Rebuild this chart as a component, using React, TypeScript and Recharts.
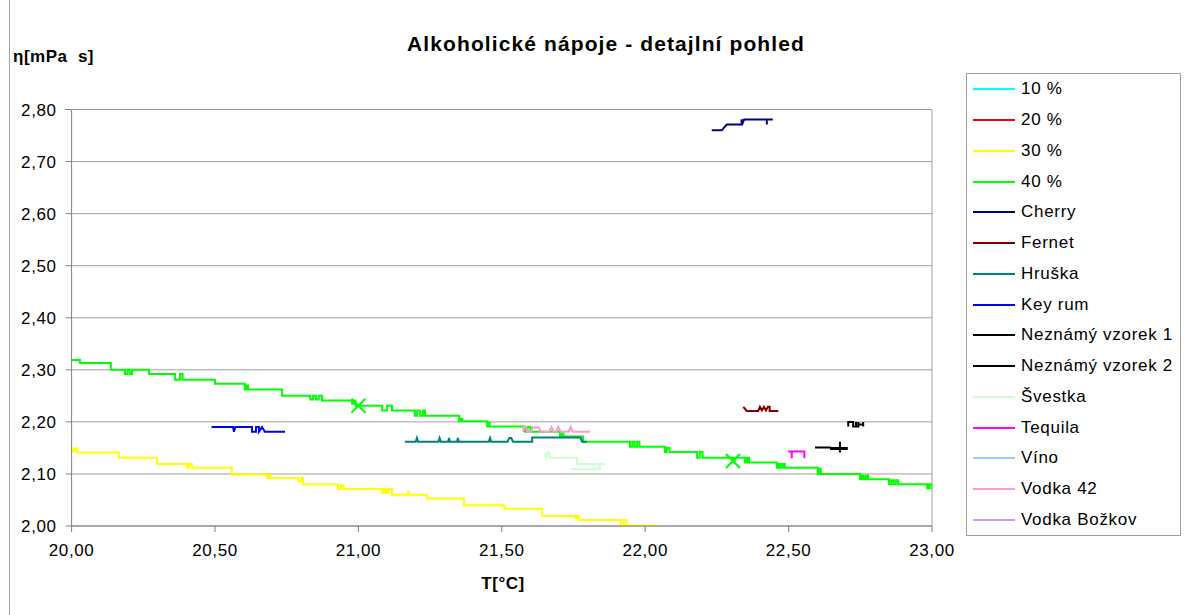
import React from 'react';
import { LineChart, Line, XAxis, YAxis, CartesianGrid, Legend, ReferenceLine } from 'recharts';

const FONT = '"Liberation Sans", Arial, sans-serif';

// ---- axis ticks ----
const xTicks = [20, 20.5, 21, 21.5, 22, 22.5, 23];
const yTicks = [2.0, 2.1, 2.2, 2.3, 2.4, 2.5, 2.6, 2.7, 2.8];

// ---- series values: [T (°C), η (mPa s)] ----
const s10: number[][] = [];
const s20: number[][] = [];
const s30: number[][] = [
  [19.98, 2.149], [20.0, 2.143], [20.01, 2.149], [20.019, 2.141], [20.165, 2.131], [20.298, 2.119],
  [20.403, 2.112], [20.41, 2.119], [20.42, 2.112], [20.559, 2.099], [20.682, 2.092], [20.687, 2.099],
  [20.693, 2.092], [20.79, 2.086], [20.8, 2.092], [20.807, 2.08], [20.929, 2.071], [20.939, 2.078],
  [20.949, 2.071], [21.083, 2.064], [21.09, 2.071], [21.097, 2.064], [21.104, 2.071], [21.117, 2.06],
  [21.173, 2.066], [21.176, 2.06], [21.239, 2.053], [21.368, 2.04], [21.503, 2.038], [21.511, 2.033],
  [21.64, 2.019], [21.756, 2.015], [21.762, 2.019], [21.769, 2.0115], [21.915, 2.001], [21.925, 2.0115],
  [21.935, 2.001], [22.02, 1.996], [22.03, 2.001], [22.04, 1.992], [22.191, 1.992],
];
const s40: number[][] = [
  [19.977, 2.319], [20.029, 2.313], [20.137, 2.3], [20.186, 2.292], [20.195, 2.3], [20.203, 2.292],
  [20.211, 2.3], [20.27, 2.292], [20.361, 2.281], [20.378, 2.292], [20.387, 2.281], [20.5, 2.273],
  [20.604, 2.262], [20.608, 2.27], [20.615, 2.262], [20.734, 2.25], [20.832, 2.243], [20.842, 2.25],
  [20.852, 2.243], [20.862, 2.25], [20.873, 2.241], [20.978, 2.235], [20.985, 2.241], [20.99, 2.231],
  [21.0, 2.231, 1], [21.083, 2.222], [21.1, 2.231], [21.117, 2.222], [21.197, 2.212], [21.205, 2.222],
  [21.215, 2.212], [21.225, 2.222], [21.232, 2.212], [21.351, 2.201], [21.356, 2.206], [21.362, 2.201],
  [21.449, 2.191], [21.452, 2.198], [21.458, 2.191], [21.581, 2.181], [21.59, 2.19], [21.6, 2.181],
  [21.703, 2.172], [21.708, 2.178], [21.715, 2.172], [21.783, 2.162], [21.947, 2.152], [21.955, 2.162],
  [21.963, 2.152], [21.972, 2.162], [21.98, 2.152], [22.069, 2.142], [22.075, 2.15], [22.085, 2.142],
  [22.181, 2.131], [22.19, 2.142], [22.2, 2.131], [22.306, 2.125, 1], [22.312, 2.131], [22.348, 2.122],
  [22.355, 2.131], [22.362, 2.122], [22.459, 2.112], [22.465, 2.119], [22.472, 2.112], [22.48, 2.119],
  [22.487, 2.112], [22.602, 2.1], [22.606, 2.11], [22.612, 2.1], [22.749, 2.09], [22.755, 2.097],
  [22.762, 2.09], [22.77, 2.097], [22.777, 2.09], [22.85, 2.08], [22.858, 2.088], [22.866, 2.08],
  [22.874, 2.088], [22.882, 2.08], [22.983, 2.0725], [22.99, 2.08], [22.998, 2.0725], [23.028, 2.0725],
];
const sCherry: number[][] = [
  [22.232, 2.76], [22.267, 2.76], [22.284, 2.771], [22.336, 2.771], [22.336, 2.781], [22.34, 2.774],
  [22.345, 2.781], [22.424, 2.781], [22.424, 2.771], [22.424, 2.781], [22.445, 2.781],
];
const sFernet: number[][] = [
  [22.342, 2.229], [22.354, 2.221], [22.394, 2.221], [22.4, 2.229], [22.407, 2.222], [22.414, 2.229],
  [22.421, 2.222], [22.428, 2.229], [22.434, 2.229], [22.434, 2.221], [22.464, 2.221],
];
const sHruska: number[][] = [
  [21.162, 2.162], [21.2, 2.162], [21.204, 2.169], [21.208, 2.162], [21.279, 2.162], [21.283, 2.169],
  [21.287, 2.162], [21.313, 2.162], [21.316, 2.169], [21.319, 2.162], [21.344, 2.162], [21.347, 2.169],
  [21.35, 2.162], [21.455, 2.162], [21.459, 2.169], [21.463, 2.162], [21.52, 2.162], [21.526, 2.169],
  [21.533, 2.169], [21.539, 2.162], [21.606, 2.162], [21.606, 2.17], [21.774, 2.17], [21.78, 2.162],
  [21.796, 2.162],
];
const sKeyRum: number[][] = [
  [20.488, 2.19], [20.563, 2.19], [20.566, 2.181], [20.571, 2.19], [20.629, 2.19], [20.629, 2.181],
  [20.643, 2.181], [20.643, 2.19], [20.653, 2.19], [20.653, 2.181], [20.664, 2.19], [20.674, 2.181],
  [20.744, 2.181],
];
const sNez1: number[][] = [
  [22.708, 2.191], [22.708, 2.2], [22.725, 2.2], [22.725, 2.191], [22.735, 2.191], [22.735, 2.2],
  [22.735, 2.191], [22.743, 2.191], [22.743, 2.2], [22.743, 2.195], [22.76, 2.195], [22.76, 2.2],
  [22.76, 2.191],
];
const sNez2: number[][] = [
  [22.592, 2.151], [22.645, 2.151], [22.648, 2.148], [22.703, 2.148], [22.703, 2.15], [22.645, 2.15],
  [22.679, 2.15], [22.679, 2.162], [22.679, 2.141],
];
const sSvestka: number[][] = [
  [21.65, 2.141], [21.655, 2.131], [21.66, 2.141], [21.667, 2.141], [21.667, 2.131], [21.762, 2.131],
  [21.762, 2.119], [21.86, 2.119], [21.842, 2.119], [21.842, 2.109], [21.738, 2.109],
];
const sTequila: number[][] = [
  [22.499, 2.143], [22.511, 2.143], [22.511, 2.13], [22.511, 2.143], [22.555, 2.143], [22.555, 2.13],
];
const sVino: number[][] = [];
const sVodka42: number[][] = [
  [21.574, 2.181], [21.578, 2.19], [21.586, 2.19], [21.588, 2.181], [21.602, 2.181], [21.608, 2.189],
  [21.63, 2.189], [21.636, 2.181], [21.665, 2.181], [21.673, 2.19], [21.681, 2.181], [21.69, 2.181],
  [21.697, 2.19], [21.705, 2.181], [21.733, 2.181], [21.74, 2.19], [21.748, 2.181], [21.808, 2.181],
];
const sBozkov: number[][] = [];

const toPts = (a: number[][]) => a.map(([T, v, m]) => ({ T, v, m: !!m }));

const series = [
  { name: '10 %', color: '#00ffff', data: s10, type: 'linear' },
  { name: '20 %', color: '#ff0000', data: s20, type: 'linear' },
  { name: '30 %', color: '#ffff00', data: s30, type: 'stepAfter' },
  { name: '40 %', color: '#00ff00', data: s40, type: 'stepAfter' },
  { name: 'Cherry', color: '#000080', data: sCherry, type: 'linear' },
  { name: 'Fernet', color: '#800000', data: sFernet, type: 'linear' },
  { name: 'Hruška', color: '#008080', data: sHruska, type: 'linear' },
  { name: 'Key rum', color: '#0000ff', data: sKeyRum, type: 'linear' },
  { name: 'Neznámý vzorek 1', color: '#000000', data: sNez1, type: 'linear' },
  { name: 'Neznámý vzorek 2', color: '#000000', data: sNez2, type: 'linear' },
  { name: 'Švestka', color: '#ccffcc', data: sSvestka, type: 'linear' },
  { name: 'Tequila', color: '#ff00ff', data: sTequila, type: 'linear' },
  { name: 'Víno', color: '#99ccff', data: sVino, type: 'linear' },
  { name: 'Vodka 42', color: '#ff99cc', data: sVodka42, type: 'linear' },
  { name: 'Vodka Božkov', color: '#cc99ff', data: sBozkov, type: 'linear' },
];

const fmt = (v: number) => v.toFixed(2).replace('.', ',');

const makeMarker = (color: string) => (props: any) => {
  const { cx, cy, payload, index } = props;
  if (!payload || !payload.m || cx == null || cy == null) return <g key={`d${index}`} />;
  const r = 7;
  return (
    <path
      key={`d${index}`}
      d={`M${cx - r},${cy - r}L${cx + r},${cy + r}M${cx - r},${cy + r}L${cx + r},${cy - r}`}
      stroke={color}
      strokeWidth={2}
      fill="none"
    />
  );
};

const renderLegend = () => (
  <div
    style={{
      width: 215,
      height: 463,
      border: '1px solid #a0a0a0',
      boxSizing: 'border-box',
      background: '#fff',
      fontFamily: FONT,
      fontSize: 17,
      letterSpacing: 0.7,
      color: '#000',
      paddingTop: 0,
    }}
  >
    {series.map((s) => (
      <div key={s.name} style={{ height: 30.75, display: 'flex', alignItems: 'center' }}>
        <svg width={54} height={10} style={{ flex: 'none' }}>
          <line x1={6} x2={48} y1={5} y2={5} stroke={s.color} strokeWidth={2} />
        </svg>
        <span style={{ whiteSpace: 'nowrap' }}>{s.name}</span>
      </div>
    ))}
  </div>
);

const tickStyle = { fontFamily: FONT, fontSize: 17, fill: '#000', letterSpacing: 0.6 };

export default function App() {
  return (
    <div style={{ position: 'absolute', left: 0, top: 0, width: 1192, height: 615, background: '#fff' }}>
      <div style={{ position: 'absolute', left: 9, top: 0, width: 1, height: 615, background: '#a0a0a0' }} />
      <div
        style={{
          position: 'absolute',
          left: 0,
          width: 1212,
          top: 32,
          textAlign: 'center',
          fontFamily: FONT,
          fontWeight: 'bold',
          fontSize: 21,
          letterSpacing: 1.1,
        }}
      >
        Alkoholické nápoje - detajlní pohled
      </div>
      <div
        style={{
          position: 'absolute',
          left: 13,
          top: 47,
          fontFamily: FONT,
          fontWeight: 'bold',
          fontSize: 17,
          letterSpacing: 0.5,
          whiteSpace: 'pre',
        }}
      >
        {'η[mPa  s]'}
      </div>
      <div
        style={{
          position: 'absolute',
          left: 403,
          width: 200,
          top: 574,
          textAlign: 'center',
          fontFamily: FONT,
          fontWeight: 'bold',
          fontSize: 17,
          letterSpacing: 0.5,
        }}
      >
        T[°C]
      </div>
      <LineChart width={1192} height={615} margin={{ top: 109.5, right: 260, bottom: 59, left: 11.6 }}>
        <CartesianGrid vertical={false} stroke="#a0a0a0" />
        <XAxis
          dataKey="T"
          type="number"
          domain={[20, 23]}
          ticks={xTicks}
          allowDataOverflow
          tickFormatter={fmt}
          tick={tickStyle}
          tickSize={6}
          tickMargin={12}
          height={30}
          stroke="#808080"
          interval={0}
        />
        <YAxis
          type="number"
          domain={[2, 2.8]}
          ticks={yTicks}
          allowDataOverflow
          tickFormatter={fmt}
          tick={tickStyle}
          tickSize={6}
          tickMargin={9}
          width={60}
          stroke="#808080"
          interval={0}
        />
        <ReferenceLine x={23} stroke="#a0a0a0" />
        {series.map((s) => (
          <Line
            key={s.name}
            name={s.name}
            data={toPts(s.data)}
            dataKey="v"
            type={s.type as any}
            stroke={s.color}
            strokeWidth={2}
            dot={s.name === '40 %' ? makeMarker(s.color) : false}
            activeDot={false}
            isAnimationActive={false}
          />
        ))}
        <Legend
          layout="vertical"
          align="center"
          verticalAlign="middle"
          width={216}
          height={463}
          wrapperStyle={{ left: 966, top: 73, width: 216, height: 463 }}
          content={renderLegend}
        />
      </LineChart>
    </div>
  );
}
